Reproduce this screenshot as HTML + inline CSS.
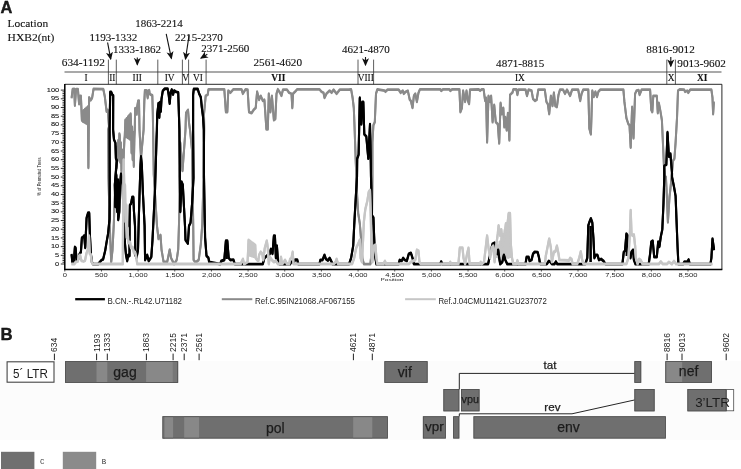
<!DOCTYPE html>
<html lang="en"><head><meta charset="utf-8"><title>Figure</title>
<style>html,body{margin:0;padding:0;background:#fff}body{width:741px;height:469px;overflow:hidden}svg{display:block}.se{font-family:"Liberation Serif",serif;fill:#111;stroke:#111;stroke-width:0.12px}.sa{font-family:"Liberation Sans",sans-serif;fill:#1c1c1c}.gb{stroke:#1e1e1e;stroke-width:0.25px}</style></head><body>
<svg width="741" height="469" viewBox="0 0 741 469">
<rect width="741" height="469" fill="#fff"/>
<text class="sa" x="0.6" y="13.4" font-size="16.4" font-weight="700" fill="#000" stroke="#000" stroke-width="0.35">A</text>
<text class="se" x="7.6" y="26.7" font-size="11.4" textLength="40.5" lengthAdjust="spacingAndGlyphs">Location</text>
<text class="se" x="7.6" y="40.5" font-size="11.4" textLength="46.7" lengthAdjust="spacingAndGlyphs">HXB2(nt)</text>
<text class="se" x="89.5" y="40.6" font-size="11.2" textLength="47.8" lengthAdjust="spacingAndGlyphs">1193-1332</text>
<text class="se" x="135.2" y="27.1" font-size="11.2" textLength="47.5" lengthAdjust="spacingAndGlyphs">1863-2214</text>
<text class="se" x="175.1" y="40.6" font-size="11.2" textLength="47.8" lengthAdjust="spacingAndGlyphs">2215-2370</text>
<text class="se" x="113" y="52.8" font-size="11.2" textLength="48" lengthAdjust="spacingAndGlyphs">1333-1862</text>
<text class="se" x="201.3" y="52.4" font-size="11.2" textLength="48" lengthAdjust="spacingAndGlyphs">2371-2560</text>
<text class="se" x="61.7" y="66.3" font-size="11.2" textLength="43.2" lengthAdjust="spacingAndGlyphs">634-1192</text>
<text class="se" x="253.5" y="66.3" font-size="11.2" textLength="48.5" lengthAdjust="spacingAndGlyphs">2561-4620</text>
<text class="se" x="342" y="52.7" font-size="11.2" textLength="47.8" lengthAdjust="spacingAndGlyphs">4621-4870</text>
<text class="se" x="496.1" y="66.5" font-size="11.2" textLength="48.1" lengthAdjust="spacingAndGlyphs">4871-8815</text>
<text class="se" x="646.3" y="52.7" font-size="11.2" textLength="48.5" lengthAdjust="spacingAndGlyphs">8816-9012</text>
<text class="se" x="677.3" y="66.5" font-size="11.2" textLength="48.6" lengthAdjust="spacingAndGlyphs">9013-9602</text>
<defs><marker id="ah" viewBox="0 0 10 10" refX="8.5" refY="5" markerWidth="8" markerHeight="8" orient="auto" markerUnits="userSpaceOnUse"><path d="M0 0.6 L10 5 L0 9.4 L2.6 5 Z" fill="#111"/></marker></defs>
<line x1="107.6" y1="42.5" x2="110.7" y2="59" stroke="#111" stroke-width="1.1" marker-end="url(#ah)"/>
<line x1="137.3" y1="57.6" x2="137.3" y2="64.6" stroke="#111" stroke-width="1.1" marker-end="url(#ah)"/>
<line x1="166.2" y1="33.9" x2="171.4" y2="58.4" stroke="#111" stroke-width="1.1" marker-end="url(#ah)"/>
<line x1="189.1" y1="35.2" x2="185.5" y2="59" stroke="#111" stroke-width="1.1" marker-end="url(#ah)"/>
<line x1="207.3" y1="54.3" x2="201" y2="58.1" stroke="#111" stroke-width="1.1" marker-end="url(#ah)"/>
<line x1="365.5" y1="57" x2="365.5" y2="65" stroke="#111" stroke-width="1.1" marker-end="url(#ah)"/>
<line x1="670.8" y1="57" x2="670.8" y2="66.2" stroke="#111" stroke-width="1.1" marker-end="url(#ah)"/>
<line x1="64.5" y1="72" x2="721.5" y2="72" stroke="#8c8c8c" stroke-width="1.5"/>
<line x1="108.4" y1="59.6" x2="108.4" y2="84.3" stroke="#333" stroke-width="0.8"/>
<line x1="116.3" y1="59.6" x2="116.3" y2="84.3" stroke="#333" stroke-width="0.8"/>
<line x1="157.8" y1="59.6" x2="157.8" y2="84.3" stroke="#333" stroke-width="0.8"/>
<line x1="182.4" y1="59.6" x2="182.4" y2="84.3" stroke="#333" stroke-width="0.8"/>
<line x1="188.6" y1="59.6" x2="188.6" y2="84.3" stroke="#333" stroke-width="0.8"/>
<line x1="206.1" y1="59.6" x2="206.1" y2="84.3" stroke="#333" stroke-width="0.8"/>
<line x1="358" y1="59.6" x2="358" y2="84.3" stroke="#333" stroke-width="0.8"/>
<line x1="373.6" y1="59.6" x2="373.6" y2="84.3" stroke="#333" stroke-width="0.8"/>
<line x1="666.8" y1="59.6" x2="666.8" y2="84.3" stroke="#333" stroke-width="0.8"/>
<line x1="675.4" y1="59.6" x2="675.4" y2="84.3" stroke="#333" stroke-width="0.8"/>
<text class="se" x="86" y="81" font-size="9.4" text-anchor="middle" font-weight="400">I</text>
<text class="se" x="112.3" y="81" font-size="9.4" text-anchor="middle" font-weight="400">II</text>
<text class="se" x="137.3" y="81" font-size="9.4" text-anchor="middle" font-weight="400">III</text>
<text class="se" x="169.7" y="81" font-size="9.4" text-anchor="middle" font-weight="400">IV</text>
<text class="se" x="185.6" y="81" font-size="9.4" text-anchor="middle" font-weight="400">V</text>
<text class="se" x="198" y="81" font-size="9.4" text-anchor="middle" font-weight="400">VI</text>
<text class="se" x="278.3" y="81" font-size="9.4" text-anchor="middle" font-weight="700">VII</text>
<text class="se" x="365.8" y="81" font-size="9.4" text-anchor="middle" font-weight="400">VIII</text>
<text class="se" x="519.9" y="81" font-size="9.4" text-anchor="middle" font-weight="400">IX</text>
<text class="se" x="671.1" y="81" font-size="9.4" text-anchor="middle" font-weight="400">X</text>
<text class="se" x="702.1" y="81" font-size="9.4" text-anchor="middle" font-weight="700">XI</text>
<path d="M60.8 264.00H64.8M62.5 262.26H64.8M62.5 260.52H64.8M62.5 258.78H64.8M62.5 257.04H64.8M60.8 255.31H64.8M62.5 253.57H64.8M62.5 251.83H64.8M62.5 250.09H64.8M62.5 248.35H64.8M60.8 246.61H64.8M62.5 244.87H64.8M62.5 243.13H64.8M62.5 241.39H64.8M62.5 239.65H64.8M60.8 237.91H64.8M62.5 236.18H64.8M62.5 234.44H64.8M62.5 232.70H64.8M62.5 230.96H64.8M60.8 229.22H64.8M62.5 227.48H64.8M62.5 225.74H64.8M62.5 224.00H64.8M62.5 222.26H64.8M60.8 220.53H64.8M62.5 218.79H64.8M62.5 217.05H64.8M62.5 215.31H64.8M62.5 213.57H64.8M60.8 211.83H64.8M62.5 210.09H64.8M62.5 208.35H64.8M62.5 206.61H64.8M62.5 204.87H64.8M60.8 203.13H64.8M62.5 201.40H64.8M62.5 199.66H64.8M62.5 197.92H64.8M62.5 196.18H64.8M60.8 194.44H64.8M62.5 192.70H64.8M62.5 190.96H64.8M62.5 189.22H64.8M62.5 187.48H64.8M60.8 185.75H64.8M62.5 184.01H64.8M62.5 182.27H64.8M62.5 180.53H64.8M62.5 178.79H64.8M60.8 177.05H64.8M62.5 175.31H64.8M62.5 173.57H64.8M62.5 171.83H64.8M62.5 170.09H64.8M60.8 168.36H64.8M62.5 166.62H64.8M62.5 164.88H64.8M62.5 163.14H64.8M62.5 161.40H64.8M60.8 159.66H64.8M62.5 157.92H64.8M62.5 156.18H64.8M62.5 154.44H64.8M62.5 152.70H64.8M60.8 150.97H64.8M62.5 149.23H64.8M62.5 147.49H64.8M62.5 145.75H64.8M62.5 144.01H64.8M60.8 142.27H64.8M62.5 140.53H64.8M62.5 138.79H64.8M62.5 137.05H64.8M62.5 135.31H64.8M60.8 133.57H64.8M62.5 131.84H64.8M62.5 130.10H64.8M62.5 128.36H64.8M62.5 126.62H64.8M60.8 124.88H64.8M62.5 123.14H64.8M62.5 121.40H64.8M62.5 119.66H64.8M62.5 117.92H64.8M60.8 116.19H64.8M62.5 114.45H64.8M62.5 112.71H64.8M62.5 110.97H64.8M62.5 109.23H64.8M60.8 107.49H64.8M62.5 105.75H64.8M62.5 104.01H64.8M62.5 102.27H64.8M62.5 100.53H64.8M60.8 98.79H64.8M62.5 97.06H64.8M62.5 95.32H64.8M62.5 93.58H64.8M62.5 91.84H64.8M60.8 90.10H64.8" stroke="#000" stroke-width="0.8" fill="none"/>
<text class="sa" transform="translate(59.2 265.60) scale(1.66 1)" font-size="4.5" text-anchor="end" fill="#000" stroke="#000" stroke-width="0.08">0</text>
<text class="sa" transform="translate(59.2 256.91) scale(1.66 1)" font-size="4.5" text-anchor="end" fill="#000" stroke="#000" stroke-width="0.08">5</text>
<text class="sa" transform="translate(59.2 248.21) scale(1.66 1)" font-size="4.5" text-anchor="end" fill="#000" stroke="#000" stroke-width="0.08">10</text>
<text class="sa" transform="translate(59.2 239.51) scale(1.66 1)" font-size="4.5" text-anchor="end" fill="#000" stroke="#000" stroke-width="0.08">15</text>
<text class="sa" transform="translate(59.2 230.82) scale(1.66 1)" font-size="4.5" text-anchor="end" fill="#000" stroke="#000" stroke-width="0.08">20</text>
<text class="sa" transform="translate(59.2 222.12) scale(1.66 1)" font-size="4.5" text-anchor="end" fill="#000" stroke="#000" stroke-width="0.08">25</text>
<text class="sa" transform="translate(59.2 213.43) scale(1.66 1)" font-size="4.5" text-anchor="end" fill="#000" stroke="#000" stroke-width="0.08">30</text>
<text class="sa" transform="translate(59.2 204.73) scale(1.66 1)" font-size="4.5" text-anchor="end" fill="#000" stroke="#000" stroke-width="0.08">35</text>
<text class="sa" transform="translate(59.2 196.04) scale(1.66 1)" font-size="4.5" text-anchor="end" fill="#000" stroke="#000" stroke-width="0.08">40</text>
<text class="sa" transform="translate(59.2 187.34) scale(1.66 1)" font-size="4.5" text-anchor="end" fill="#000" stroke="#000" stroke-width="0.08">45</text>
<text class="sa" transform="translate(59.2 178.65) scale(1.66 1)" font-size="4.5" text-anchor="end" fill="#000" stroke="#000" stroke-width="0.08">50</text>
<text class="sa" transform="translate(59.2 169.96) scale(1.66 1)" font-size="4.5" text-anchor="end" fill="#000" stroke="#000" stroke-width="0.08">55</text>
<text class="sa" transform="translate(59.2 161.26) scale(1.66 1)" font-size="4.5" text-anchor="end" fill="#000" stroke="#000" stroke-width="0.08">60</text>
<text class="sa" transform="translate(59.2 152.56) scale(1.66 1)" font-size="4.5" text-anchor="end" fill="#000" stroke="#000" stroke-width="0.08">65</text>
<text class="sa" transform="translate(59.2 143.87) scale(1.66 1)" font-size="4.5" text-anchor="end" fill="#000" stroke="#000" stroke-width="0.08">70</text>
<text class="sa" transform="translate(59.2 135.17) scale(1.66 1)" font-size="4.5" text-anchor="end" fill="#000" stroke="#000" stroke-width="0.08">75</text>
<text class="sa" transform="translate(59.2 126.48) scale(1.66 1)" font-size="4.5" text-anchor="end" fill="#000" stroke="#000" stroke-width="0.08">80</text>
<text class="sa" transform="translate(59.2 117.78) scale(1.66 1)" font-size="4.5" text-anchor="end" fill="#000" stroke="#000" stroke-width="0.08">85</text>
<text class="sa" transform="translate(59.2 109.09) scale(1.66 1)" font-size="4.5" text-anchor="end" fill="#000" stroke="#000" stroke-width="0.08">90</text>
<text class="sa" transform="translate(59.2 100.39) scale(1.66 1)" font-size="4.5" text-anchor="end" fill="#000" stroke="#000" stroke-width="0.08">95</text>
<text class="sa" transform="translate(59.2 91.70) scale(1.66 1)" font-size="4.5" text-anchor="end" fill="#000" stroke="#000" stroke-width="0.08">100</text>
<path d="M64.80 269V271.6M101.46 269V271.6M138.12 269V271.6M174.78 269V271.6M211.44 269V271.6M248.10 269V271.6M284.76 269V271.6M321.42 269V271.6M358.08 269V271.6M394.74 269V271.6M431.40 269V271.6M468.06 269V271.6M504.72 269V271.6M541.38 269V271.6M578.04 269V271.6M614.70 269V271.6M651.36 269V271.6M688.02 269V271.6" stroke="#222" stroke-width="0.7" fill="none"/>
<text class="sa" transform="translate(64.80 276.9) scale(1.62 1)" font-size="4.7" text-anchor="middle" fill="#000">0</text>
<text class="sa" transform="translate(101.46 276.9) scale(1.62 1)" font-size="4.7" text-anchor="middle" fill="#000">500</text>
<text class="sa" transform="translate(138.12 276.9) scale(1.62 1)" font-size="4.7" text-anchor="middle" fill="#000">1,000</text>
<text class="sa" transform="translate(174.78 276.9) scale(1.62 1)" font-size="4.7" text-anchor="middle" fill="#000">1,500</text>
<text class="sa" transform="translate(211.44 276.9) scale(1.62 1)" font-size="4.7" text-anchor="middle" fill="#000">2,000</text>
<text class="sa" transform="translate(248.10 276.9) scale(1.62 1)" font-size="4.7" text-anchor="middle" fill="#000">2,500</text>
<text class="sa" transform="translate(284.76 276.9) scale(1.62 1)" font-size="4.7" text-anchor="middle" fill="#000">3,000</text>
<text class="sa" transform="translate(321.42 276.9) scale(1.62 1)" font-size="4.7" text-anchor="middle" fill="#000">3,500</text>
<text class="sa" transform="translate(358.08 276.9) scale(1.62 1)" font-size="4.7" text-anchor="middle" fill="#000">4,000</text>
<text class="sa" transform="translate(394.74 276.9) scale(1.62 1)" font-size="4.7" text-anchor="middle" fill="#000">4,500</text>
<text class="sa" transform="translate(431.40 276.9) scale(1.62 1)" font-size="4.7" text-anchor="middle" fill="#000">5,000</text>
<text class="sa" transform="translate(468.06 276.9) scale(1.62 1)" font-size="4.7" text-anchor="middle" fill="#000">5,500</text>
<text class="sa" transform="translate(504.72 276.9) scale(1.62 1)" font-size="4.7" text-anchor="middle" fill="#000">6,000</text>
<text class="sa" transform="translate(541.38 276.9) scale(1.62 1)" font-size="4.7" text-anchor="middle" fill="#000">6,500</text>
<text class="sa" transform="translate(578.04 276.9) scale(1.62 1)" font-size="4.7" text-anchor="middle" fill="#000">7,000</text>
<text class="sa" transform="translate(614.70 276.9) scale(1.62 1)" font-size="4.7" text-anchor="middle" fill="#000">7,500</text>
<text class="sa" transform="translate(651.36 276.9) scale(1.62 1)" font-size="4.7" text-anchor="middle" fill="#000">8,000</text>
<text class="sa" transform="translate(688.02 276.9) scale(1.62 1)" font-size="4.7" text-anchor="middle" fill="#000">8,500</text>
<text class="sa" transform="translate(392 281.2) scale(1.5 1)" font-size="4.3" text-anchor="middle" fill="#222">Position</text>
<text class="sa" transform="translate(40.6 176.5) rotate(-90) scale(0.73 1)" font-size="5.6" text-anchor="middle" fill="#111">% of Permuted Trees</text>
<path transform="translate(0 -0.4)" d="M71.6 98.02 L72.7 89.1 L74.2 88.8 L74.9 105.54 L76.1 89.1 L77.9 89.1 L79.1 104.03 L80.1 95.81 L80.9 95.81 L81.9 120.47 L82.3 111.65 L83 121.57 L83.7 110.45 L84.4 122.27 L85 109.14 L85.7 123.08 L86.4 107.84 L87.1 123.78 L87.8 106.64 L88.4 167.78 L89.1 97.32 L90.6 100.32 L92.1 98.02 L93.6 88.8 L103.3 89.1 L104.8 96.52 L106.6 111.55 L107.8 110.05 L109 126.48 L108.2 129.69 L108.5 177.8 L109.7 223.91 L111.2 262 L112.5 249.97 L113.8 223.91 L114.5 204.86 L116.3 159.76 L116.6 167.78 L117.2 146.53 L117.7 160.56 L118.3 140.12 L118.8 153.35 L119.4 133.7 L119.8 135.71 L120.3 162.27 L120.9 142.72 L121.5 171.29 L122 149.74 L123.2 167.78 L124.4 139.71 L124.8 135.71 L125.4 119.87 L126.1 136.61 L126.7 118.37 L127.4 137.51 L128 116.76 L128.7 138.41 L129.3 115.26 L130 139.31 L130.6 113.66 L131 121.67 L131.6 153.05 L132.1 126.99 L132.7 159.76 L133.3 132.4 L133.8 166.48 L134.4 137.71 L134.8 129.69 L135.1 108.34 L136.1 108.14 L136.7 114.46 L137.1 107.24 L138.2 100.63 L139 100.63 L139.5 129.69 L141 157.76 L143.6 129.69 L144.3 102.13 L144.9 90.3 L146.5 90.3 L147.7 98.02 L148.5 90.6 L149.2 90.3 L149.7 93.91 L150.3 94.41 L152.3 95.41 L152.8 112.45 L153.1 129.69 L153.8 174.8 L157 225.91 L158.5 238.94 L160.5 234.93 L161.5 249.57 L163.6 262 L167.2 262 L169.7 249.57 L171 257.79 L174.1 264.1 L176.7 259.99 L178.2 249.57 L179 223.91 L179.5 199.85 L180.3 142.72 L182.5 170.79 L185.5 129.69 L186 112.95 L188 109.85 L189 122.68 L190 129.69 L192 149.74 L193.2 223.91 L193.6 259.99 L195.6 262.5 L198.7 259.99 L200.8 244.46 L202.3 223.91 L203.5 177.8 L204.2 129.69 L204 114.06 L205.7 95.81 L207.7 94.81 L208.5 89.3 L224.3 89.3 L225.9 112.05 L227.3 112.05 L228.3 90.7 L230.4 92.71 L233.4 89.3 L241.5 89.3 L242.9 93.71 L245.5 89.3 L247.6 89.7 L249 112.05 L251.6 113.05 L253.6 109.95 L255.7 107.94 L257.1 91.7 L259.1 99.82 L260.7 95.81 L262.8 100.83 L264.4 99.82 L266.4 129.29 L267.8 129.29 L268.8 93.71 L270.4 112.05 L271.9 95.81 L273.9 120.17 L275.3 119.07 L276.5 93.71 L277.9 89.3 L280 92.71 L281.4 95.81 L283 89.7 L287 89.7 L289.1 92.71 L291.5 93.71 L292.3 107.94 L293.1 93.71 L295.1 91.7 L297.2 89.3 L319.4 89.3 L321.5 91.7 L323.5 92.71 L324.5 97.82 L326.5 93.71 L329.6 90.7 L331.6 92.71 L333.6 89.7 L336.6 93.71 L339.7 89.7 L348.8 89.7 L351.1 89.3 L352.6 97.82 L353.8 107.94 L354.6 128.29 L355.8 162.77 L357.2 197.05 L358.2 213.28 L359.8 223.51 L361.3 241.75 L362.3 257.99 L363.9 264.1 L370.4 264.1 L371.4 253.88 L372 217.39 L372.4 176.8 L372.4 142.42 L373.4 125.18 L374.8 122.17 L376 93.71 L377.4 89.3 L384.5 90.7 L385.5 91.7 L387.6 89.7 L398.7 89.7 L400.7 92.71 L402.8 90.7 L403.8 93.71 L405.8 91.7 L407.8 90.7 L409.8 99.82 L410.9 100.83 L412.5 107.94 L413.9 95.81 L415.3 93.71 L416.9 101.83 L418.5 92.71 L420 89.3 L440.2 89.3 L441.2 90.7 L443.2 89.3 L449.3 89.3 L450.3 90.7 L452.3 89.3 L459.4 89.3 L460.4 112.05 L461.9 107.94 L463.1 90.7 L465.1 101.83 L466.5 90.7 L467.9 100.83 L469.1 103.93 L470 89.7 L478.7 89.3 L480.1 90.7 L481.7 89.3 L483.6 89.3 L485.1 100.83 L486.1 97.82 L487.1 142.42 L488.5 95.81 L490.1 101.83 L491.1 95.81 L492.6 122.17 L494.2 104.93 L495.8 122.17 L497.8 124.18 L499.2 143.42 L500.6 102.93 L501.9 114.06 L503.3 107.94 L504.3 127.19 L505.3 117.06 L506.7 130.29 L507.9 113.05 L509.4 140.42 L510 94.81 L512.4 92.71 L513.4 89.3 L516.4 89.3 L517.4 94.81 L518.5 89.7 L525.5 89.7 L527 95.81 L528.6 89.7 L531.6 90.7 L533 98.82 L535.1 100.83 L536.7 99.82 L538.3 89.7 L544.8 89.7 L546.4 101.83 L547.8 103.93 L549.2 114.06 L550.9 95.81 L552.5 105.94 L553.9 92.71 L555.3 105.94 L556.9 106.94 L558.5 94.81 L560 89.7 L563 89.7 L565 93.71 L567 89.7 L570.1 95.81 L572.1 89.7 L578.2 89.7 L580.2 100.83 L581.6 93.71 L583.2 89.7 L588.3 89.7 L589.3 128.29 L590.9 134.3 L592.3 90.7 L593.8 96.82 L595.4 91.7 L597 96.82 L598.4 91.7 L600.4 89.7 L603.1 89.7 L623.4 89.7 L624.4 101.83 L626.4 118.07 L628.4 124.18 L629.5 125.18 L630.7 147.53 L632.1 106.94 L633.5 138.41 L635.1 93.71 L636.5 90.7 L638.6 90.1 L639.6 94.81 L641.6 89.7 L650.1 89.7 L651.3 109.95 L652.3 112.05 L653.3 95.81 L656.8 95.81 L657.8 113.05 L658.8 102.93 L660.2 109.95 L661.9 120.17 L662.9 142.42 L663.9 164.77 L664.7 176.7 L665.9 176.8 L666.9 197.05 L667.9 222.4 L669.5 197.05 L670.4 188.93 L671.6 176.8 L673 160.66 L674.4 158.66 L675.6 142.42 L677 118.07 L678 90.7 L679.7 89.3 L684.1 89.7 L685.1 91.7 L687.2 90.7 L688.2 92.71 L690.2 89.7 L711.4 89.7 L712.5 97.82 L713.1 114.06 L713.9 101.83" fill="none" stroke="#8a8a8a" stroke-width="2.0" stroke-linejoin="round"/>
<path transform="translate(0 0.4)" d="M71.6 98.02 L72.7 89.1 L74.2 88.8 L74.9 105.54 L76.1 89.1 L77.9 89.1 L79.1 104.03 L80.1 95.81 L80.9 95.81 L81.9 120.47 L82.3 111.65 L83 121.57 L83.7 110.45 L84.4 122.27 L85 109.14 L85.7 123.08 L86.4 107.84 L87.1 123.78 L87.8 106.64 L88.4 167.78 L89.1 97.32 L90.6 100.32 L92.1 98.02 L93.6 88.8 L103.3 89.1 L104.8 96.52 L106.6 111.55 L107.8 110.05 L109 126.48 L108.2 129.69 L108.5 177.8 L109.7 223.91 L111.2 262 L112.5 249.97 L113.8 223.91 L114.5 204.86 L116.3 159.76 L116.6 167.78 L117.2 146.53 L117.7 160.56 L118.3 140.12 L118.8 153.35 L119.4 133.7 L119.8 135.71 L120.3 162.27 L120.9 142.72 L121.5 171.29 L122 149.74 L123.2 167.78 L124.4 139.71 L124.8 135.71 L125.4 119.87 L126.1 136.61 L126.7 118.37 L127.4 137.51 L128 116.76 L128.7 138.41 L129.3 115.26 L130 139.31 L130.6 113.66 L131 121.67 L131.6 153.05 L132.1 126.99 L132.7 159.76 L133.3 132.4 L133.8 166.48 L134.4 137.71 L134.8 129.69 L135.1 108.34 L136.1 108.14 L136.7 114.46 L137.1 107.24 L138.2 100.63 L139 100.63 L139.5 129.69 L141 157.76 L143.6 129.69 L144.3 102.13 L144.9 90.3 L146.5 90.3 L147.7 98.02 L148.5 90.6 L149.2 90.3 L149.7 93.91 L150.3 94.41 L152.3 95.41 L152.8 112.45 L153.1 129.69 L153.8 174.8 L157 225.91 L158.5 238.94 L160.5 234.93 L161.5 249.57 L163.6 262 L167.2 262 L169.7 249.57 L171 257.79 L174.1 264.1 L176.7 259.99 L178.2 249.57 L179 223.91 L179.5 199.85 L180.3 142.72 L182.5 170.79 L185.5 129.69 L186 112.95 L188 109.85 L189 122.68 L190 129.69 L192 149.74 L193.2 223.91 L193.6 259.99 L195.6 262.5 L198.7 259.99 L200.8 244.46 L202.3 223.91 L203.5 177.8 L204.2 129.69 L204 114.06 L205.7 95.81 L207.7 94.81 L208.5 89.3 L224.3 89.3 L225.9 112.05 L227.3 112.05 L228.3 90.7 L230.4 92.71 L233.4 89.3 L241.5 89.3 L242.9 93.71 L245.5 89.3 L247.6 89.7 L249 112.05 L251.6 113.05 L253.6 109.95 L255.7 107.94 L257.1 91.7 L259.1 99.82 L260.7 95.81 L262.8 100.83 L264.4 99.82 L266.4 129.29 L267.8 129.29 L268.8 93.71 L270.4 112.05 L271.9 95.81 L273.9 120.17 L275.3 119.07 L276.5 93.71 L277.9 89.3 L280 92.71 L281.4 95.81 L283 89.7 L287 89.7 L289.1 92.71 L291.5 93.71 L292.3 107.94 L293.1 93.71 L295.1 91.7 L297.2 89.3 L319.4 89.3 L321.5 91.7 L323.5 92.71 L324.5 97.82 L326.5 93.71 L329.6 90.7 L331.6 92.71 L333.6 89.7 L336.6 93.71 L339.7 89.7 L348.8 89.7 L351.1 89.3 L352.6 97.82 L353.8 107.94 L354.6 128.29 L355.8 162.77 L357.2 197.05 L358.2 213.28 L359.8 223.51 L361.3 241.75 L362.3 257.99 L363.9 264.1 L370.4 264.1 L371.4 253.88 L372 217.39 L372.4 176.8 L372.4 142.42 L373.4 125.18 L374.8 122.17 L376 93.71 L377.4 89.3 L384.5 90.7 L385.5 91.7 L387.6 89.7 L398.7 89.7 L400.7 92.71 L402.8 90.7 L403.8 93.71 L405.8 91.7 L407.8 90.7 L409.8 99.82 L410.9 100.83 L412.5 107.94 L413.9 95.81 L415.3 93.71 L416.9 101.83 L418.5 92.71 L420 89.3 L440.2 89.3 L441.2 90.7 L443.2 89.3 L449.3 89.3 L450.3 90.7 L452.3 89.3 L459.4 89.3 L460.4 112.05 L461.9 107.94 L463.1 90.7 L465.1 101.83 L466.5 90.7 L467.9 100.83 L469.1 103.93 L470 89.7 L478.7 89.3 L480.1 90.7 L481.7 89.3 L483.6 89.3 L485.1 100.83 L486.1 97.82 L487.1 142.42 L488.5 95.81 L490.1 101.83 L491.1 95.81 L492.6 122.17 L494.2 104.93 L495.8 122.17 L497.8 124.18 L499.2 143.42 L500.6 102.93 L501.9 114.06 L503.3 107.94 L504.3 127.19 L505.3 117.06 L506.7 130.29 L507.9 113.05 L509.4 140.42 L510 94.81 L512.4 92.71 L513.4 89.3 L516.4 89.3 L517.4 94.81 L518.5 89.7 L525.5 89.7 L527 95.81 L528.6 89.7 L531.6 90.7 L533 98.82 L535.1 100.83 L536.7 99.82 L538.3 89.7 L544.8 89.7 L546.4 101.83 L547.8 103.93 L549.2 114.06 L550.9 95.81 L552.5 105.94 L553.9 92.71 L555.3 105.94 L556.9 106.94 L558.5 94.81 L560 89.7 L563 89.7 L565 93.71 L567 89.7 L570.1 95.81 L572.1 89.7 L578.2 89.7 L580.2 100.83 L581.6 93.71 L583.2 89.7 L588.3 89.7 L589.3 128.29 L590.9 134.3 L592.3 90.7 L593.8 96.82 L595.4 91.7 L597 96.82 L598.4 91.7 L600.4 89.7 L603.1 89.7 L623.4 89.7 L624.4 101.83 L626.4 118.07 L628.4 124.18 L629.5 125.18 L630.7 147.53 L632.1 106.94 L633.5 138.41 L635.1 93.71 L636.5 90.7 L638.6 90.1 L639.6 94.81 L641.6 89.7 L650.1 89.7 L651.3 109.95 L652.3 112.05 L653.3 95.81 L656.8 95.81 L657.8 113.05 L658.8 102.93 L660.2 109.95 L661.9 120.17 L662.9 142.42 L663.9 164.77 L664.7 176.7 L665.9 176.8 L666.9 197.05 L667.9 222.4 L669.5 197.05 L670.4 188.93 L671.6 176.8 L673 160.66 L674.4 158.66 L675.6 142.42 L677 118.07 L678 90.7 L679.7 89.3 L684.1 89.7 L685.1 91.7 L687.2 90.7 L688.2 92.71 L690.2 89.7 L711.4 89.7 L712.5 97.82 L713.1 114.06 L713.9 101.83" fill="none" stroke="#8a8a8a" stroke-width="2.0" stroke-linejoin="round"/>
<path transform="translate(0 0)" d="M496.8 257.99 L497.6 245.06 L498.5 257.99 L499.4 241.35 L500.2 257.99 L501.1 237.54 L501.9 257.99 L502.8 233.83 L503.6 257.99 L504.4 230.02 L505.3 257.99 L506.1 226.31 L507 257.99 L507.9 222.5 L508.7 257.99 L509.6 218.8 L510.4 257.99" fill="none" stroke="#c6c6c6" stroke-width="1.8" stroke-linejoin="round"/>
<path transform="translate(0 -0.4)" d="M71.6 254.28 L72.3 262.1 L73.8 262.1 L74.9 247.06 L75.6 247.86 L76.6 260.69 L78.1 259.29 L79.5 254.28 L80.9 252.07 L81.9 237.84 L83.1 237.04 L84.2 235.63 L85.2 247.86 L86.6 217.79 L88.1 212.78 L89.2 212.78 L89.9 234.93 L90.9 254.28 L91.9 262.1 L93.1 264.1 L98.1 264.1 L101.6 259.99 L103.1 259.29 L105.2 250.67 L106.6 242.05 L108.1 233.53 L109.5 219.2 L109.7 204.86 L109.7 177.8 L109.6 129.69 L110.2 91.91 L111.2 91.91 L112.2 94.61 L113.2 95.41 L113.1 129.69 L114 139.71 L115.4 142.72 L115.9 158.46 L116.9 160.56 L114.8 184.82 L115.3 206.87 L116.3 174.8 L117.2 211.88 L118 179.81 L118.2 219.9 L119.3 211.88 L120 184.82 L121 173.79 L122 177.8 L122.6 184.82 L123.5 214.89 L125 243.95 L126 254.98 L127.2 260.99 L128.2 254.98 L129.5 255.98 L129.6 222.91 L129.9 204.86 L131 203.86 L132.3 196.85 L133.3 196.85 L134 211.88 L135 225.91 L135.4 254.98 L136.5 257.99 L138 249.97 L138.6 225.91 L139.5 194.84 L140.5 164.77 L141 156.45 L141.8 164.77 L143 194.84 L144.6 225.91 L145.1 259.99 L147.2 254.98 L148.7 260.99 L151.3 256.98 L152.5 239.94 L153.3 223.91 L155 189.83 L156.5 139.71 L156.9 129.69 L157.2 114.46 L158.5 103.13 L159.3 117.66 L160 102.13 L160.8 111.65 L161.5 99.02 L162.8 90.8 L164.6 88.8 L167.7 88.8 L168.7 94.91 L169.7 103.63 L170.6 92.61 L171.8 89.6 L173 94.61 L174.2 90.6 L176.2 91.91 L178.2 92.41 L178.7 107.24 L179.4 129.69 L179.8 177.8 L180.3 211.88 L181.6 181.81 L182.8 184.82 L185 225.91 L185.5 239.94 L187.9 243.45 L189 225.91 L190.5 222.91 L192 204.56 L193.5 177.8 L193.1 129.69 L193.1 94.91 L193.8 89 L197.7 89 L199.2 93.91 L200.8 97.02 L201.8 107.24 L203 116.56 L203.8 129.69 L204 177.8 L205.1 237.64 L206.5 255.88 L208.5 257.99 L209.1 262 L220.2 264.1 L221.3 260.99 L224.3 259.99 L225.9 240.75 L227.3 240.75 L228.7 257.99 L230.4 259.99 L233.4 259.59 L234.8 264.1 L248.6 264.1 L262.8 264.1 L264.4 257.99 L266.8 255.88 L269.8 253.88 L270.9 248.87 L272.5 253.88 L273.9 235.63 L274.9 235.63 L275.9 257.99 L276.9 245.76 L277.9 259.99 L279.4 264.1 L290.1 264.1 L291.1 262 L294.1 262 L295.1 259.59 L297.2 259.59 L298.2 264.1 L319.4 264.1 L320.4 259.99 L322.5 259.99 L324.5 254.88 L325.9 258.99 L327.9 260.39 L329.6 257.99 L331.2 260.99 L332.6 264.1 L348.8 264.1 L349.1 264.1 L351.1 257.99 L353.2 245.76 L354.2 225.51 L355.8 197.05 L357 176.8 L357.2 158.66 L358.6 154.65 L359.8 97.82 L361.3 124.18 L362.3 101.83 L363.3 101.83 L364.3 134.3 L366.3 136.41 L368.3 158.66 L370 124.18 L370.8 162.77 L371 176.7 L372 215.39 L373.4 217.39 L374.4 243.75 L375.4 257.99 L376.4 264.1 L398.7 264.1 L399.7 259.99 L401.7 260.99 L403.2 257.99 L404.8 259.99 L406.8 260.99 L408.8 253.88 L410.9 252.87 L412.5 257.99 L413.9 264.1 L415.9 264.1 L418.9 264.1 L440.2 264.1 L441.2 261.59 L442.2 264.1 L481.7 264.1 L488.1 264.1 L491.1 249.87 L492.6 243.75 L494.6 242.75 L495.8 247.86 L497.2 253.88 L498.2 249.87 L499.2 257.99 L500.2 264.1 L502.3 262 L503.9 254.88 L505.3 259.99 L507.3 264.1 L511.4 264.1 L525.5 264.1 L526.6 256.98 L528.6 256.98 L529.6 260.99 L531.6 259.99 L533 253.88 L534.7 251.87 L537.7 252.27 L539.1 257.99 L539.7 262 L540.7 264.1 L546.8 264.1 L548.8 260.99 L550.4 262 L551.9 264.1 L554.5 264.1 L555.9 261.59 L557.3 264.1 L585.3 264.1 L587.3 257.99 L588.3 225.51 L589.3 222.4 L590.9 218.4 L592.3 222.4 L593.4 237.64 L594.4 257.99 L595.8 254.88 L597.4 254.88 L599 259.99 L601.1 258.99 L603.5 260.99 L605.5 264.1 L606.2 264.1 L622.4 264.1 L623.8 251.87 L625 250.87 L626.4 233.63 L627.8 235.63 L629.1 253.88 L630.5 257.99 L631.5 251.87 L633.1 249.87 L633.9 259.99 L635.5 264.1 L640.6 264.1 L648.7 264.1 L650.1 253.88 L651.3 241.75 L652.7 240.75 L654.2 256.98 L656.8 256.98 L658.2 241.75 L659.4 246.76 L660.8 236.64 L662.3 229.52 L663.5 203.16 L664.3 176.8 L664.3 165.77 L666.3 164.77 L667.5 132.3 L668.9 156.65 L670.4 153.65 L672 172.89 L672 176.8 L674 186.92 L675.6 196.04 L676.4 217.39 L677.6 247.86 L678.4 264.1 L683.1 264.1 L684.5 261.59 L687.2 262 L688.6 259.59 L689.8 264.1 L710.4 264.1 L711.4 257.99 L712.5 238.64 L713.5 245.76 L714.1 249.87" fill="none" stroke="#000" stroke-width="2.1" stroke-linejoin="round"/>
<path transform="translate(0 0.4)" d="M71.6 254.28 L72.3 262.1 L73.8 262.1 L74.9 247.06 L75.6 247.86 L76.6 260.69 L78.1 259.29 L79.5 254.28 L80.9 252.07 L81.9 237.84 L83.1 237.04 L84.2 235.63 L85.2 247.86 L86.6 217.79 L88.1 212.78 L89.2 212.78 L89.9 234.93 L90.9 254.28 L91.9 262.1 L93.1 264.1 L98.1 264.1 L101.6 259.99 L103.1 259.29 L105.2 250.67 L106.6 242.05 L108.1 233.53 L109.5 219.2 L109.7 204.86 L109.7 177.8 L109.6 129.69 L110.2 91.91 L111.2 91.91 L112.2 94.61 L113.2 95.41 L113.1 129.69 L114 139.71 L115.4 142.72 L115.9 158.46 L116.9 160.56 L114.8 184.82 L115.3 206.87 L116.3 174.8 L117.2 211.88 L118 179.81 L118.2 219.9 L119.3 211.88 L120 184.82 L121 173.79 L122 177.8 L122.6 184.82 L123.5 214.89 L125 243.95 L126 254.98 L127.2 260.99 L128.2 254.98 L129.5 255.98 L129.6 222.91 L129.9 204.86 L131 203.86 L132.3 196.85 L133.3 196.85 L134 211.88 L135 225.91 L135.4 254.98 L136.5 257.99 L138 249.97 L138.6 225.91 L139.5 194.84 L140.5 164.77 L141 156.45 L141.8 164.77 L143 194.84 L144.6 225.91 L145.1 259.99 L147.2 254.98 L148.7 260.99 L151.3 256.98 L152.5 239.94 L153.3 223.91 L155 189.83 L156.5 139.71 L156.9 129.69 L157.2 114.46 L158.5 103.13 L159.3 117.66 L160 102.13 L160.8 111.65 L161.5 99.02 L162.8 90.8 L164.6 88.8 L167.7 88.8 L168.7 94.91 L169.7 103.63 L170.6 92.61 L171.8 89.6 L173 94.61 L174.2 90.6 L176.2 91.91 L178.2 92.41 L178.7 107.24 L179.4 129.69 L179.8 177.8 L180.3 211.88 L181.6 181.81 L182.8 184.82 L185 225.91 L185.5 239.94 L187.9 243.45 L189 225.91 L190.5 222.91 L192 204.56 L193.5 177.8 L193.1 129.69 L193.1 94.91 L193.8 89 L197.7 89 L199.2 93.91 L200.8 97.02 L201.8 107.24 L203 116.56 L203.8 129.69 L204 177.8 L205.1 237.64 L206.5 255.88 L208.5 257.99 L209.1 262 L220.2 264.1 L221.3 260.99 L224.3 259.99 L225.9 240.75 L227.3 240.75 L228.7 257.99 L230.4 259.99 L233.4 259.59 L234.8 264.1 L248.6 264.1 L262.8 264.1 L264.4 257.99 L266.8 255.88 L269.8 253.88 L270.9 248.87 L272.5 253.88 L273.9 235.63 L274.9 235.63 L275.9 257.99 L276.9 245.76 L277.9 259.99 L279.4 264.1 L290.1 264.1 L291.1 262 L294.1 262 L295.1 259.59 L297.2 259.59 L298.2 264.1 L319.4 264.1 L320.4 259.99 L322.5 259.99 L324.5 254.88 L325.9 258.99 L327.9 260.39 L329.6 257.99 L331.2 260.99 L332.6 264.1 L348.8 264.1 L349.1 264.1 L351.1 257.99 L353.2 245.76 L354.2 225.51 L355.8 197.05 L357 176.8 L357.2 158.66 L358.6 154.65 L359.8 97.82 L361.3 124.18 L362.3 101.83 L363.3 101.83 L364.3 134.3 L366.3 136.41 L368.3 158.66 L370 124.18 L370.8 162.77 L371 176.7 L372 215.39 L373.4 217.39 L374.4 243.75 L375.4 257.99 L376.4 264.1 L398.7 264.1 L399.7 259.99 L401.7 260.99 L403.2 257.99 L404.8 259.99 L406.8 260.99 L408.8 253.88 L410.9 252.87 L412.5 257.99 L413.9 264.1 L415.9 264.1 L418.9 264.1 L440.2 264.1 L441.2 261.59 L442.2 264.1 L481.7 264.1 L488.1 264.1 L491.1 249.87 L492.6 243.75 L494.6 242.75 L495.8 247.86 L497.2 253.88 L498.2 249.87 L499.2 257.99 L500.2 264.1 L502.3 262 L503.9 254.88 L505.3 259.99 L507.3 264.1 L511.4 264.1 L525.5 264.1 L526.6 256.98 L528.6 256.98 L529.6 260.99 L531.6 259.99 L533 253.88 L534.7 251.87 L537.7 252.27 L539.1 257.99 L539.7 262 L540.7 264.1 L546.8 264.1 L548.8 260.99 L550.4 262 L551.9 264.1 L554.5 264.1 L555.9 261.59 L557.3 264.1 L585.3 264.1 L587.3 257.99 L588.3 225.51 L589.3 222.4 L590.9 218.4 L592.3 222.4 L593.4 237.64 L594.4 257.99 L595.8 254.88 L597.4 254.88 L599 259.99 L601.1 258.99 L603.5 260.99 L605.5 264.1 L606.2 264.1 L622.4 264.1 L623.8 251.87 L625 250.87 L626.4 233.63 L627.8 235.63 L629.1 253.88 L630.5 257.99 L631.5 251.87 L633.1 249.87 L633.9 259.99 L635.5 264.1 L640.6 264.1 L648.7 264.1 L650.1 253.88 L651.3 241.75 L652.7 240.75 L654.2 256.98 L656.8 256.98 L658.2 241.75 L659.4 246.76 L660.8 236.64 L662.3 229.52 L663.5 203.16 L664.3 176.8 L664.3 165.77 L666.3 164.77 L667.5 132.3 L668.9 156.65 L670.4 153.65 L672 172.89 L672 176.8 L674 186.92 L675.6 196.04 L676.4 217.39 L677.6 247.86 L678.4 264.1 L683.1 264.1 L684.5 261.59 L687.2 262 L688.6 259.59 L689.8 264.1 L710.4 264.1 L711.4 257.99 L712.5 238.64 L713.5 245.76 L714.1 249.87" fill="none" stroke="#000" stroke-width="2.1" stroke-linejoin="round"/>
<path transform="translate(0 0)" d="M590.6 225.91 L590.6 262" fill="none" stroke="#000" stroke-width="2.6" stroke-linejoin="round"/>
<path transform="translate(0 0)" d="M626.9 237.94 L626.9 255.98" fill="none" stroke="#000" stroke-width="2.6" stroke-linejoin="round"/>
<path transform="translate(0 0)" d="M226.6 242.95 L226.6 258.99" fill="none" stroke="#000" stroke-width="2.6" stroke-linejoin="round"/>
<path transform="translate(0 -0.4)" d="M71.4 264.1 L74.3 264.1 L75.7 262.1 L77.9 261.39 L78.6 256.38 L80 254.98 L81.4 260.69 L83.6 261.39 L85 260.69 L86.4 253.58 L87.9 249.27 L89 235.63 L89.7 253.58 L90.7 254.28 L91.7 262.1 L92.9 264.1 L122.9 264.1 L122.8 264.1 L123.2 199.85 L123.7 159.76 L124.5 199.85 L125 184.82 L125.6 221.9 L126.3 204.86 L126.8 237.94 L127.6 227.92 L128.3 242.95 L130 241.95 L131 247.96 L132.5 246.96 L134 252.97 L135 251.97 L136.2 256.98 L137.3 264.1 L200 264.1 L240.5 264.1 L241.5 262 L242.9 258.99 L244.1 264.1 L247.6 262 L248.6 239.94 L249.3 255.18 L249.9 240.95 L250.6 255.58 L251.2 241.95 L251.9 255.98 L252.6 242.95 L253.2 256.38 L253.9 243.95 L254.5 256.78 L255.2 244.96 L255.7 257.99 L257.1 259.99 L258.3 260.99 L259.1 254.88 L260.7 251.87 L262.3 253.88 L263.2 259.99 L264.8 247.86 L266.8 240.75 L267.8 247.86 L268.8 264.1 L269.8 256.98 L271.9 259.99 L273.9 262 L275.9 260.99 L277.9 264.1 L280 264.1 L281 256.98 L282 264.1 L284 262 L285 259.99 L287 264.1 L289.1 264.1 L290.1 258.99 L291.5 257.99 L292.7 251.87 L293.5 264.1 L321.5 264.1 L333.6 264.1 L335.6 262 L336.6 258.99 L338.1 264.1 L348.8 264.1 L352.1 264.1 L354.2 257.99 L356.2 247.86 L358.2 243.75 L359.8 239.74 L360.6 257.99 L361.9 262 L362.7 247.86 L363.9 221.4 L365.3 209.27 L367.3 201.16 L368.7 192.03 L370 190.03 L370.8 217.39 L371.6 257.99 L372.4 262 L374 245.76 L375.4 244.76 L376.4 257.99 L377.4 264.1 L383.5 264.1 L384.9 260.99 L386.2 264.1 L408.8 264.1 L410.9 262 L412.9 260.99 L415.3 259.99 L416.9 249.87 L418.5 250.87 L419.4 262 L421 264.1 L449.3 264.1 L450.3 262 L451.3 264.1 L458.4 264.1 L459.8 247.86 L462.5 247.86 L463.5 257.99 L465.1 264.1 L467.1 253.88 L468.5 247.86 L469.6 264.1 L470.6 264.1 L479.7 264.1 L480.7 262 L481.7 264.1 L484 262 L485.7 247.86 L487.1 235.63 L488.5 247.86 L490.1 257.99 L491.7 247.86 L493.2 245.76 L494.6 262 L496.2 245.76 L497.8 233.63 L498.6 225.51 L500.2 235.63 L501.3 229.52 L502.7 245.76 L504.3 237.64 L505.9 223.51 L507.3 225.51 L508.7 213.28 L510 213.28 L510.8 243.75 L512 257.99 L513.4 264.1 L516.4 264.1 L517.4 260.39 L518.5 264.1 L544.8 264.1 L545.8 255.88 L547.8 245.76 L549.2 238.64 L550.9 247.86 L551.9 262 L553.9 251.87 L555.3 251.87 L556.9 245.76 L558.5 253.88 L559.4 259.99 L569.1 260.39 L570.1 257.99 L571.5 258.99 L572.7 264.1 L577.2 264.1 L579.2 257.99 L580.8 251.47 L582.2 259.99 L583.6 264.1 L605.5 264.1 L606.2 264.1 L623.4 264.1 L626.4 264.1 L628.4 257.99 L629.9 233.63 L630.7 210.28 L631.5 233.63 L632.5 235.63 L633.9 234.63 L635.1 245.76 L635.9 257.99 L637.6 264.1 L639.2 258.99 L640.6 259.99 L642.6 264.1 L658.8 264.1 L660.8 261.59 L662.9 264.1 L666.9 264.1 L668.9 262 L672 264.1 L674 260.99 L676 264.1 L712.5 264.1" fill="none" stroke="#c6c6c6" stroke-width="2.2" stroke-linejoin="round"/>
<path transform="translate(0 0.4)" d="M71.4 264.1 L74.3 264.1 L75.7 262.1 L77.9 261.39 L78.6 256.38 L80 254.98 L81.4 260.69 L83.6 261.39 L85 260.69 L86.4 253.58 L87.9 249.27 L89 235.63 L89.7 253.58 L90.7 254.28 L91.7 262.1 L92.9 264.1 L122.9 264.1 L122.8 264.1 L123.2 199.85 L123.7 159.76 L124.5 199.85 L125 184.82 L125.6 221.9 L126.3 204.86 L126.8 237.94 L127.6 227.92 L128.3 242.95 L130 241.95 L131 247.96 L132.5 246.96 L134 252.97 L135 251.97 L136.2 256.98 L137.3 264.1 L200 264.1 L240.5 264.1 L241.5 262 L242.9 258.99 L244.1 264.1 L247.6 262 L248.6 239.94 L249.3 255.18 L249.9 240.95 L250.6 255.58 L251.2 241.95 L251.9 255.98 L252.6 242.95 L253.2 256.38 L253.9 243.95 L254.5 256.78 L255.2 244.96 L255.7 257.99 L257.1 259.99 L258.3 260.99 L259.1 254.88 L260.7 251.87 L262.3 253.88 L263.2 259.99 L264.8 247.86 L266.8 240.75 L267.8 247.86 L268.8 264.1 L269.8 256.98 L271.9 259.99 L273.9 262 L275.9 260.99 L277.9 264.1 L280 264.1 L281 256.98 L282 264.1 L284 262 L285 259.99 L287 264.1 L289.1 264.1 L290.1 258.99 L291.5 257.99 L292.7 251.87 L293.5 264.1 L321.5 264.1 L333.6 264.1 L335.6 262 L336.6 258.99 L338.1 264.1 L348.8 264.1 L352.1 264.1 L354.2 257.99 L356.2 247.86 L358.2 243.75 L359.8 239.74 L360.6 257.99 L361.9 262 L362.7 247.86 L363.9 221.4 L365.3 209.27 L367.3 201.16 L368.7 192.03 L370 190.03 L370.8 217.39 L371.6 257.99 L372.4 262 L374 245.76 L375.4 244.76 L376.4 257.99 L377.4 264.1 L383.5 264.1 L384.9 260.99 L386.2 264.1 L408.8 264.1 L410.9 262 L412.9 260.99 L415.3 259.99 L416.9 249.87 L418.5 250.87 L419.4 262 L421 264.1 L449.3 264.1 L450.3 262 L451.3 264.1 L458.4 264.1 L459.8 247.86 L462.5 247.86 L463.5 257.99 L465.1 264.1 L467.1 253.88 L468.5 247.86 L469.6 264.1 L470.6 264.1 L479.7 264.1 L480.7 262 L481.7 264.1 L484 262 L485.7 247.86 L487.1 235.63 L488.5 247.86 L490.1 257.99 L491.7 247.86 L493.2 245.76 L494.6 262 L496.2 245.76 L497.8 233.63 L498.6 225.51 L500.2 235.63 L501.3 229.52 L502.7 245.76 L504.3 237.64 L505.9 223.51 L507.3 225.51 L508.7 213.28 L510 213.28 L510.8 243.75 L512 257.99 L513.4 264.1 L516.4 264.1 L517.4 260.39 L518.5 264.1 L544.8 264.1 L545.8 255.88 L547.8 245.76 L549.2 238.64 L550.9 247.86 L551.9 262 L553.9 251.87 L555.3 251.87 L556.9 245.76 L558.5 253.88 L559.4 259.99 L569.1 260.39 L570.1 257.99 L571.5 258.99 L572.7 264.1 L577.2 264.1 L579.2 257.99 L580.8 251.47 L582.2 259.99 L583.6 264.1 L605.5 264.1 L606.2 264.1 L623.4 264.1 L626.4 264.1 L628.4 257.99 L629.9 233.63 L630.7 210.28 L631.5 233.63 L632.5 235.63 L633.9 234.63 L635.1 245.76 L635.9 257.99 L637.6 264.1 L639.2 258.99 L640.6 259.99 L642.6 264.1 L658.8 264.1 L660.8 261.59 L662.9 264.1 L666.9 264.1 L668.9 262 L672 264.1 L674 260.99 L676 264.1 L712.5 264.1" fill="none" stroke="#c6c6c6" stroke-width="2.2" stroke-linejoin="round"/>
<path d="M64.8 84.3H721.9V269.6" fill="none" stroke="#111" stroke-width="0.9"/>
<path d="M64.8 83.89999999999999V269.6H722.3" fill="none" stroke="#000" stroke-width="1.5"/>
<line x1="75.2" y1="299.2" x2="104.9" y2="299.2" stroke="#000" stroke-width="2.3"/>
<text class="sa" x="107.4" y="303.8" font-size="8.4" textLength="74.6" lengthAdjust="spacingAndGlyphs">B.CN.-.RL42.U71182</text>
<line x1="221.8" y1="299.2" x2="252.3" y2="299.2" stroke="#8a8a8a" stroke-width="2"/>
<text class="sa" x="255" y="303.8" font-size="8.4" textLength="100" lengthAdjust="spacingAndGlyphs">Ref.C.95IN21068.AF067155</text>
<line x1="405.1" y1="299.2" x2="435.8" y2="299.2" stroke="#c6c6c6" stroke-width="2"/>
<text class="sa" x="438.4" y="303.8" font-size="8.4" textLength="108.4" lengthAdjust="spacingAndGlyphs">Ref.J.04CMU11421.GU237072</text>
<text class="sa" x="0.6" y="339.6" font-size="16.8" font-weight="700" fill="#000" stroke="#000" stroke-width="0.35">B</text>
<rect x="0" y="361" width="741" height="79" fill="#fcfcfc"/>
<rect x="7.1" y="361.8" width="46.9" height="20.4" fill="#fff" stroke="#454545" stroke-width="1.1"/>
<text class="sa" x="13.1" y="377.7" font-size="12.2" textLength="34.8" lengthAdjust="spacingAndGlyphs" fill="#2a2a2a">5´ LTR</text>
<rect x="65.1" y="361.2" width="113" height="21.6" fill="#6f6f6f"/>
<rect x="96.5" y="361.2" width="10.8" height="21.6" fill="#888888"/>
<rect x="146.1" y="361.2" width="26.8" height="21.6" fill="#888888"/>
<rect x="172.9" y="361.2" width="5.2" height="21.6" fill="#777"/>
<rect x="65.5" y="361.6" width="112.2" height="20.8" fill="none" stroke="#4e4e4e" stroke-width="0.8"/>
<text class="sa gb" x="125" y="377.2" font-size="14" text-anchor="middle" fill="#111">gag</text>
<rect x="384.4" y="361.2" width="43.2" height="21.6" fill="#6f6f6f"/>
<rect x="384.8" y="361.6" width="42.4" height="20.8" fill="none" stroke="#4e4e4e" stroke-width="0.8"/>
<text class="sa gb" x="404.8" y="377" font-size="14" text-anchor="middle" fill="#111">vif</text>
<rect x="634.4" y="361.2" width="6.8" height="21.6" fill="#6f6f6f"/>
<rect x="634.8" y="361.6" width="6" height="20.8" fill="none" stroke="#4e4e4e" stroke-width="0.8"/>
<rect x="665.4" y="361.2" width="46.6" height="21.6" fill="#6f6f6f"/>
<rect x="665.4" y="361.2" width="16.8" height="21.6" fill="#888888"/>
<rect x="665.8" y="361.6" width="45.8" height="20.8" fill="none" stroke="#4e4e4e" stroke-width="0.8"/>
<text class="sa gb" x="688.6" y="376.2" font-size="14" text-anchor="middle" fill="#111">nef</text>
<rect x="443.4" y="389.1" width="15.9" height="22.2" fill="#6f6f6f"/>
<rect x="443.8" y="389.5" width="15.1" height="21.4" fill="none" stroke="#4e4e4e" stroke-width="0.8"/>
<rect x="461" y="389.1" width="18.5" height="22.2" fill="#6f6f6f"/>
<rect x="461.4" y="389.5" width="17.7" height="21.4" fill="none" stroke="#4e4e4e" stroke-width="0.8"/>
<text class="sa gb" x="470.2" y="403" font-size="10.8" text-anchor="middle" fill="#111">vpu</text>
<rect x="634.4" y="389.1" width="20.2" height="22.2" fill="#6f6f6f"/>
<rect x="634.8" y="389.5" width="19.4" height="21.4" fill="none" stroke="#4e4e4e" stroke-width="0.8"/>
<rect x="687.4" y="389.1" width="39" height="22.2" fill="#6f6f6f"/>
<rect x="687.8" y="389.5" width="38.2" height="21.4" fill="none" stroke="#4e4e4e" stroke-width="0.8"/>
<rect x="726.4" y="389.6" width="7.3" height="21.2" fill="#fff" stroke="#4a4a4a" stroke-width="0.8"/>
<text class="sa" x="695.2" y="407" font-size="12.8" textLength="34.6" lengthAdjust="spacingAndGlyphs" fill="#111">3’LTR</text>
<rect x="162.6" y="416.3" width="225.2" height="22.2" fill="#6f6f6f"/>
<rect x="162.6" y="416.3" width="10.5" height="22.2" fill="#888888"/>
<rect x="184.2" y="416.3" width="14.9" height="22.2" fill="#888888"/>
<rect x="353.2" y="416.3" width="19.1" height="22.2" fill="#888888"/>
<rect x="162.6" y="416.3" width="2.4" height="22.2" fill="#7c7c7c"/>
<rect x="163" y="416.7" width="224.4" height="21.4" fill="none" stroke="#4e4e4e" stroke-width="0.8"/>
<text class="sa gb" x="275.4" y="433" font-size="14" text-anchor="middle" fill="#111">pol</text>
<rect x="422.9" y="416.3" width="22.9" height="22.2" fill="#6f6f6f"/>
<rect x="423.3" y="416.7" width="22.1" height="21.4" fill="none" stroke="#4e4e4e" stroke-width="0.8"/>
<text class="sa gb" x="434.4" y="431" font-size="13.4" text-anchor="middle" fill="#111">vpr</text>
<rect x="453.2" y="416.3" width="6.1" height="22.2" fill="#6f6f6f"/>
<rect x="453.6" y="416.7" width="5.3" height="21.4" fill="none" stroke="#4e4e4e" stroke-width="0.8"/>
<rect x="473.5" y="416.3" width="192.3" height="22.2" fill="#6f6f6f"/>
<rect x="473.9" y="416.7" width="191.5" height="21.4" fill="none" stroke="#4e4e4e" stroke-width="0.8"/>
<text class="sa gb" x="568.6" y="431.6" font-size="14" text-anchor="middle" fill="#111">env</text>
<path d="M459.3 389.4V373.4H634.4" fill="none" stroke="#262626" stroke-width="1"/>
<path d="M459.3 416.4V413.8H572L634.4 400" fill="none" stroke="#262626" stroke-width="1"/>
<text class="sa gb" x="550" y="369" font-size="11.6" text-anchor="middle" fill="#222" font-weight="400">tat</text>
<text class="sa gb" x="552.4" y="410.6" font-size="11.6" text-anchor="middle" fill="#222" font-weight="400">rev</text>
<line x1="54.4" y1="353.6" x2="54.4" y2="360.2" stroke="#222" stroke-width="1"/>
<text class="sa" transform="translate(57.3 352) rotate(-90)" font-size="8.5" fill="#2a2a2a">634</text>
<line x1="96.6" y1="353.6" x2="96.6" y2="360.2" stroke="#222" stroke-width="1"/>
<text class="sa" transform="translate(99.5 352) rotate(-90)" font-size="8.5" fill="#2a2a2a">1193</text>
<line x1="107.3" y1="353.6" x2="107.3" y2="360.2" stroke="#222" stroke-width="1"/>
<text class="sa" transform="translate(110.2 352) rotate(-90)" font-size="8.5" fill="#2a2a2a">1333</text>
<line x1="146.4" y1="353.6" x2="146.4" y2="360.2" stroke="#222" stroke-width="1"/>
<text class="sa" transform="translate(149.3 352) rotate(-90)" font-size="8.5" fill="#2a2a2a">1863</text>
<line x1="173.1" y1="353.6" x2="173.1" y2="360.2" stroke="#222" stroke-width="1"/>
<text class="sa" transform="translate(176 352) rotate(-90)" font-size="8.5" fill="#2a2a2a">2215</text>
<line x1="184.2" y1="353.6" x2="184.2" y2="360.2" stroke="#222" stroke-width="1"/>
<text class="sa" transform="translate(187.1 352) rotate(-90)" font-size="8.5" fill="#2a2a2a">2371</text>
<line x1="199.1" y1="353.6" x2="199.1" y2="360.2" stroke="#222" stroke-width="1"/>
<text class="sa" transform="translate(202 352) rotate(-90)" font-size="8.5" fill="#2a2a2a">2561</text>
<line x1="353.4" y1="353.6" x2="353.4" y2="360.2" stroke="#222" stroke-width="1"/>
<text class="sa" transform="translate(356.3 352) rotate(-90)" font-size="8.5" fill="#2a2a2a">4621</text>
<line x1="372.3" y1="353.6" x2="372.3" y2="360.2" stroke="#222" stroke-width="1"/>
<text class="sa" transform="translate(375.2 352) rotate(-90)" font-size="8.5" fill="#2a2a2a">4871</text>
<line x1="667.1" y1="353.6" x2="667.1" y2="360.2" stroke="#222" stroke-width="1"/>
<text class="sa" transform="translate(670 352) rotate(-90)" font-size="8.5" fill="#2a2a2a">8816</text>
<line x1="682" y1="353.6" x2="682" y2="360.2" stroke="#222" stroke-width="1"/>
<text class="sa" transform="translate(684.9 352) rotate(-90)" font-size="8.5" fill="#2a2a2a">9013</text>
<line x1="726.2" y1="353.6" x2="726.2" y2="360.2" stroke="#222" stroke-width="1"/>
<text class="sa" transform="translate(729.1 352) rotate(-90)" font-size="8.5" fill="#2a2a2a">9602</text>
<rect x="1" y="451.8" width="33.4" height="18" fill="#707070"/>
<rect x="62.8" y="451.8" width="33.4" height="18" fill="#8b8b8b"/>
<text x="40" y="463.6" font-size="7.4" font-family="&quot;Liberation Mono&quot;,monospace" fill="#333">C</text>
<text x="101.8" y="463.6" font-size="7.4" font-family="&quot;Liberation Mono&quot;,monospace" fill="#333">B</text>
</svg></body></html>
